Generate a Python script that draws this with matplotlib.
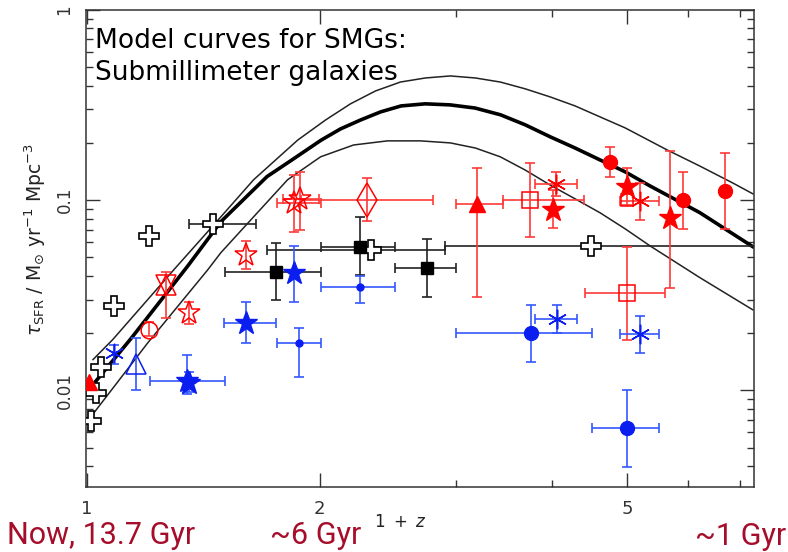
import numpy as np
import matplotlib.pyplot as plt
from matplotlib.ticker import LogLocator, NullFormatter


# model curves for SMGs (1+z, SFR density)
mid_x = [1.012, 1.14, 1.35, 1.49, 1.71, 1.851, 2.01, 2.129, 2.26, 2.398, 2.55, 2.74, 2.95, 3.18, 3.43,
         3.691, 3.98, 4.283, 4.61, 4.971, 5.35, 6.21, 7.27]
mid_y = [0.0104, 0.0187, 0.045, 0.077, 0.133, 0.165, 0.207, 0.237, 0.264, 0.291, 0.313, 0.321, 0.317, 0.305, 0.281,
         0.249, 0.215, 0.188, 0.163, 0.141, 0.119, 0.086, 0.057]

up_x = [1.018, 1.08, 1.295, 1.459, 1.643, 1.874, 2.036, 2.193, 2.362, 2.545, 2.741, 2.953, 3.182, 3.427,
        3.691, 3.977, 4.283, 4.614, 4.971, 5.63, 6.214, 6.855, 7.274]
up_y = [0.0145, 0.0185, 0.043, 0.0741, 0.128, 0.207, 0.264, 0.321, 0.375, 0.418, 0.439, 0.450, 0.439, 0.418,
        0.385, 0.349, 0.313, 0.274, 0.240, 0.184, 0.151, 0.123, 0.108]

low_x = [1.012, 1.199, 1.433, 1.49, 1.643, 1.818, 2.006, 2.213, 2.448, 2.701, 2.953, 3.182, 3.427, 3.691,
         3.977, 4.283, 4.614, 4.971, 5.354, 6.214, 7.274]
low_y = [0.00727, 0.0178, 0.043, 0.0529, 0.0817, 0.128, 0.169, 0.195, 0.205, 0.205, 0.200, 0.188, 0.169, 0.144,
         0.120, 0.1016, 0.0858, 0.0707, 0.0575, 0.0391, 0.0265]

# red points: kind, x, y, x range, y range (None = no bar)
red_kind = ['tri', 'bowtie', 'ocircle', 'ostar', 'ostar', 'ostar', 'ostar', 'odiamond', 'tri', 'osquare',
            'asterisk', 'star', 'circle', 'star', 'osquare_s', 'asterisk', 'star', 'circle', 'circle', 'osquare']
red_x = [1.006, 1.265, 1.2025, 1.354, 1.605, 1.851, 1.884, 2.307, 3.2, 3.746,
         4.047, 4.012, 4.753, 5.0, 5.0, 5.196, 5.683, 5.906, 6.69, 5.0]
red_y = [0.0110, 0.0359, 0.0208, 0.0256, 0.0516, 0.0968, 0.1016, 0.1004, 0.0957, 0.100,
         0.1218, 0.0889, 0.159, 0.1174, 0.100, 0.0992, 0.0807, 0.100, 0.1119, 0.0326]
red_xr = [None, None, None, None, None, (1.76, 2.006), (1.791, 1.994), (1.89, 2.807), (3.006, 3.45), (3.45, 4.398),
          (3.803, 4.31), None, None, None, None, (4.898, 5.5), None, None, None, (4.413, 5.6)]
red_yr = [None, (0.0241, 0.042), (0.0192, 0.0228), (0.0224, 0.0292), (0.0435, 0.0611), (0.0681, 0.1358),
          (0.0698, 0.1408), (0.0778, 0.131), (0.031, 0.1478), (0.0641, 0.157), (0.1054, 0.1408),
          (0.0715, 0.1133), (0.1326, 0.1906), (0.0945, 0.1478), None, (0.0788, 0.1233),
          (0.0346, 0.1816), (0.0707, 0.1408), (0.0707, 0.1773), (0.01845, 0.0568)]

# blue points
blue_kind = ['asterisk', 'otri', 'star', 'star', 'star', 'star', 'dot', 'dot', 'circle', 'asterisk', 'asterisk', 'circle']
blue_x = [1.0836, 1.157, 1.346, 1.354, 1.605, 1.851, 2.259, 1.879, 3.757, 4.059, 5.196, 5.0]
blue_y = [0.01576, 0.0137, 0.01123, 0.01096, 0.02265, 0.0415, 0.035, 0.0178, 0.0201, 0.0238, 0.0198, 0.00636]
blue_xr = [None, None, (1.206, 1.508), None, (1.503, 1.754), None, (2.006, 2.507), (1.76, 2.006),
           (3.006, 4.506), (3.803, 4.31), (4.898, 5.5), (4.506, 5.5)]
blue_yr = [(0.0137, 0.0174), (0.01007, 0.0189), (0.0096, 0.01538), (0.00983, 0.01252), (0.0178, 0.0292),
           (0.0292, 0.0575), (0.0289, 0.04), (0.0118, 0.0213), (0.01413, 0.0282), (0.0201, 0.0282),
           (0.01576, 0.0247), (0.00397, 0.01007)]

# black points
black_kind = ['ocross'] * 8 + ['square'] * 3
black_x = [1.2025, 1.0836, 1.455, 1.0425, 1.027, 1.012, 2.328, 4.49, 1.754, 2.253, 2.758]
black_y = [0.0649, 0.0278, 0.0751, 0.0133, 0.00971, 0.00692, 0.0548, 0.0575, 0.042, 0.0568, 0.0441]
black_xr = [None, None, (1.354, 1.653), None, None, None, (1.708, 2.909), (2.909, 9.0),
            (1.508, 2.006), (2.006, 2.507), (2.507, 3.006)]
black_yr = [None] * 8 + [(0.0299, 0.0597), (0.0405, 0.0817), (0.031, 0.0626)]


def marker_style(kind, color):
    if kind == 'star':
        return dict(marker='*', ms=17, mfc=color, mec=color)
    if kind == 'ostar':
        return dict(marker='*', ms=17, mfc='none', mec=color, mew=1.1)
    if kind == 'circle':
        return dict(marker='o', ms=10, mfc=color, mec=color)
    if kind == 'ocircle':
        return dict(marker='o', ms=12, mfc='none', mec=color, mew=1.1)
    if kind == 'dot':
        return dict(marker='o', ms=5, mfc=color, mec=color)
    if kind == 'tri':
        return dict(marker='^', ms=12, mfc=color, mec=color)
    if kind == 'otri':
        return dict(marker='^', ms=14, mfc='none', mec=color, mew=1.1)
    if kind == 'square':
        return dict(marker='s', ms=8, mfc=color, mec=color)
    if kind == 'osquare':
        return dict(marker='s', ms=12, mfc='none', mec=color, mew=1.1)
    if kind == 'osquare_s':
        return dict(marker='s', ms=9, mfc='none', mec=color, mew=1.1)
    if kind == 'asterisk':
        return dict(marker=(6, 2, 0), ms=14, mfc=color, mec=color, mew=1.1)
    if kind == 'odiamond':
        return dict(marker='d', ms=17, mfc='none', mec=color, mew=1.1)
    if kind == 'ocross':
        return dict(marker='P', ms=15, mfc='white', mec=color, mew=1.2)
    return dict(marker='o', ms=6, mfc=color, mec=color)


def draw_points(ax, kinds, xs, ys, xr, yr, color, ecolor):
    for k, x, y, xx, yy in zip(kinds, xs, ys, xr, yr):
        xerr = None if xx is None else [[x - xx[0]], [xx[1] - x]]
        yerr = None if yy is None else [[y - yy[0]], [yy[1] - y]]
        ax.errorbar([x], [y], xerr=xerr, yerr=yerr, fmt='none', ecolor=ecolor,
                    elinewidth=1.2, capsize=3.5, capthick=1.2, zorder=3)
        if k == 'bowtie':
            # open triangle up and down on the same point
            ax.plot([x], [y], ls='none', zorder=4, **marker_style('otri', color))
            ax.plot([x], [y], ls='none', zorder=4, **{**marker_style('otri', color), 'marker': 'v'})
        else:
            ax.plot([x], [y], ls='none', zorder=4, **marker_style(k, color))


def main():
    fig = plt.figure(figsize=(7.88, 5.52), dpi=100)
    ax = fig.add_axes([86 / 788, 1 - 487 / 552, 668 / 788, 477 / 552])
    ax.set_xscale('log')
    ax.set_yscale('log')

    ax.plot(up_x, up_y, color='#222222', lw=1.1, zorder=2)
    ax.plot(mid_x, mid_y, color='black', lw=2.6, zorder=2)
    ax.plot(low_x, low_y, color='#222222', lw=1.1, zorder=2)

    draw_points(ax, black_kind, black_x, black_y, black_xr, black_yr, 'black', '#222222')
    draw_points(ax, red_kind, red_x, red_y, red_xr, red_yr, '#ff0000', '#ff3a3a')
    draw_points(ax, blue_kind, blue_x, blue_y, blue_xr, blue_yr, '#0a1ef0', '#3358ff')

    ax.set_xlim(0.997, 7.3)
    ax.set_ylim(0.0031, 1.0)
    ax.set_xticks([1, 2, 5], ['1', '2', '5'])
    ax.set_xticks([3, 4, 6, 7], minor=True)
    ax.xaxis.set_minor_formatter(NullFormatter())
    ax.set_yticks([0.01, 0.1, 1], ['0.01', '0.1', '1'])
    ax.yaxis.set_minor_locator(LogLocator(base=10, subs=np.arange(2, 10)))
    ax.yaxis.set_minor_formatter(NullFormatter())
    ax.tick_params(which='both', direction='in', top=True, right=True, colors='#333333', width=1.0)
    ax.tick_params(which='major', length=10)
    ax.tick_params(which='minor', length=5)
    ax.tick_params(axis='x', labelsize=13, pad=9)
    ax.tick_params(axis='y', labelsize=12, pad=9, labelrotation=90)
    for t in ax.get_yticklabels():
        t.set_va('center')
    for s in ax.spines.values():
        s.set_color('#333333')
        s.set_linewidth(1.1)

    fig.text(35 / 788, 1 - 239 / 552, r'$\tau_{\rm SFR}\ /\ {\rm M}_{\odot}\ {\rm yr}^{-1}\ {\rm Mpc}^{-3}$',
             rotation=90, ha='center', va='center', fontsize=13.5, color='#222222')
    fig.text(400 / 788, 1 - 522 / 552, r'$1\ +\ z$', ha='center', va='center', fontsize=12, color='#222222')

    fig.text(95 / 788, 1 - 48 / 552, 'Model curves for SMGs:', fontsize=19, va='baseline', ha='left')
    fig.text(95 / 788, 1 - 80 / 552, 'Submillimeter galaxies', fontsize=19, va='baseline', ha='left')

    dark_red = '#a50d2a'
    fig.text(7 / 788, 1 - 544 / 552, 'Now, 13.7 Gyr', fontsize=22, family='Roboto', color=dark_red, va='baseline')
    fig.text(270 / 788, 1 - 544 / 552, '~6 Gyr', fontsize=22, family='Roboto', color=dark_red, va='baseline')
    fig.text(695 / 788, 1 - 545 / 552, '~1 Gyr', fontsize=22, family='Roboto', color=dark_red, va='baseline')

    fig.savefig('out.png', dpi=100)


if __name__ == "__main__":
    main()
